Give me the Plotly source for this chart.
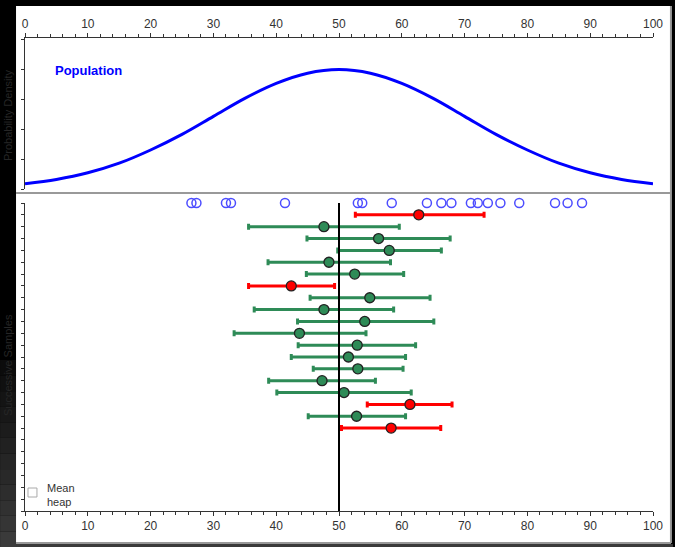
import plotly.graph_objects as go

# ---------------- data ----------------
pop_x = [0, 5, 10, 15, 20, 25, 30, 35, 40, 45, 50, 55, 60, 65, 70, 75, 80, 85, 90, 95, 100]
pop_density = [0.00088, 0.0016, 0.0027, 0.0043, 0.0065, 0.0091, 0.0121, 0.0151, 0.0176, 0.0193, 0.0199,
               0.0193, 0.0176, 0.0151, 0.0121, 0.0091, 0.0065, 0.0043, 0.0027, 0.0016, 0.00088]

sample_values = [26.5, 27.3, 32.0, 32.8, 41.4, 53.0, 53.7, 58.4, 64.0, 66.3, 67.9,
                 71.0, 72.1, 73.7, 75.7, 78.7, 84.4, 86.4, 88.7]

ci_rows = list(range(1, 20))
ci_mean = [62.7, 47.6, 56.3, 58.0, 48.4, 52.5, 42.4, 54.9, 47.6, 54.1, 43.7, 52.9, 51.5, 53.0, 47.3, 50.8, 61.3, 52.8, 58.3]
ci_low = [52.6, 35.6, 44.9, 49.8, 38.7, 44.8, 35.6, 45.4, 36.5, 43.4, 33.3, 43.5, 42.4, 45.9, 38.8, 40.1, 54.5, 45.1, 50.4]
ci_high = [73.1, 59.6, 67.7, 66.3, 58.2, 60.3, 49.3, 64.5, 58.7, 65.1, 54.3, 62.2, 60.6, 60.2, 55.8, 61.5, 68.0, 60.6, 66.2]
pop_mean = 50

x_ticks = [0, 10, 20, 30, 40, 50, 60, 70, 80, 90, 100]

GREEN = "#2e8b57"
RED = "#ff0000"

# ---------------- pixel helpers (plot area 25..655 x 38..511) ----------------
L, R, T, B = 25, 655, 38, 511
W, H = R - L, B - T


def xp(px):
    return (px - L) / W


def yp(py):
    return (B - py) / H


fig = go.Figure()

# population curve
fig.add_trace(go.Scatter(x=pop_x, y=pop_density, mode="lines", line=dict(color="#0000ff", width=3, shape="spline"),
                         xaxis="x", yaxis="y", hoverinfo="skip", showlegend=False))

# sample points
fig.add_trace(go.Scatter(x=sample_values, y=[0] * len(sample_values), mode="markers", cliponaxis=False,
                         marker=dict(symbol="circle-open", size=9, color="#4d4dff", line=dict(width=1.5)),
                         xaxis="x2", yaxis="y2", showlegend=False))

# confidence intervals split by capture of the population mean
for captured, col in [(True, GREEN), (False, RED)]:
    xs, ys, plus, minus = [], [], [], []
    for r, m, lo, hi in zip(ci_rows, ci_mean, ci_low, ci_high):
        if (lo <= pop_mean <= hi) == captured:
            xs.append(m)
            ys.append(r)
            plus.append(hi - m)
            minus.append(m - lo)
    fig.add_trace(go.Scatter(
        x=xs, y=ys, mode="markers",
        marker=dict(size=10, color=col, line=dict(color="#222222", width=1.3)),
        error_x=dict(type="data", array=plus, arrayminus=minus, color=col, thickness=3, width=3),
        xaxis="x2", yaxis="y2", showlegend=False))

shapes = []
# background panel (white) and gradient strips
shapes.append(dict(type="rect", xref="paper", yref="paper", x0=xp(16), x1=xp(673), y0=yp(543), y1=yp(6),
                   fillcolor="white", line=dict(width=0), layer="below"))
n = 12
for i in range(n):
    g = int(8 + 50 * (i + 1) / n)
    y0p = 360 + i * (187 / n)
    y1p = 360 + (i + 1) * (187 / n)
    shapes.append(dict(type="rect", xref="paper", yref="paper", x0=xp(0), x1=xp(16), y0=yp(y1p), y1=yp(y0p),
                       fillcolor=f"rgb({g},{g},{g})", line=dict(width=0), layer="below"))
shapes.append(dict(type="rect", xref="paper", yref="paper", x0=xp(16), x1=xp(675), y0=yp(547), y1=yp(544),
                   fillcolor="#3a3a3a", line=dict(width=0), layer="below"))
# borders
shapes.append(dict(type="line", xref="paper", yref="paper", x0=xp(16), x1=xp(673), y0=yp(543), y1=yp(543),
                   line=dict(color="#999999", width=2)))
shapes.append(dict(type="line", xref="paper", yref="paper", x0=xp(673), x1=xp(673), y0=yp(543), y1=yp(6),
                   line=dict(color="#999999", width=2)))
shapes.append(dict(type="line", xref="paper", yref="paper", x0=xp(16), x1=xp(673), y0=yp(193), y1=yp(193),
                   line=dict(color="#999999", width=2)))
# population mean line
shapes.append(dict(type="line", xref="x2", yref="y2", x0=pop_mean, x1=pop_mean, y0=0, y1=26,
                   line=dict(color="black", width=2), layer="above"))
# checkbox
shapes.append(dict(type="rect", xref="paper", yref="paper", x0=xp(28), x1=xp(37), y0=yp(497), y1=yp(488),
                   fillcolor="white", line=dict(color="#aaaaaa", width=1)))

annotations = [
    dict(text="<b>Population</b>", x=xp(53), y=yp(70), xref="paper", yref="paper", xanchor="left", yanchor="middle",
         showarrow=False, font=dict(family="Liberation Sans, Arial", size=13, color="#0000ff")),
    dict(text="Mean<br>heap", x=xp(45), y=yp(495), xref="paper", yref="paper", xanchor="left", yanchor="middle",
         showarrow=False, align="left", font=dict(family="Liberation Sans, Arial", size=11, color="#333333")),
    dict(text="Probability Density", x=xp(1), y=yp(115), xref="paper", yref="paper", textangle=-90,
         xanchor="left", yanchor="middle", borderpad=0,
         showarrow=False, font=dict(family="Liberation Sans, Arial", size=11, color="#262626")),
    dict(text="Successive Samples", x=xp(1), y=yp(365), xref="paper", yref="paper", textangle=-90,
         xanchor="left", yanchor="middle", borderpad=0,
         showarrow=False, font=dict(family="Liberation Sans, Arial", size=11, color="#262626")),
]

axis_font = dict(family="Liberation Sans, Arial", size=12, color="#333333")
common_x = dict(range=[0, 100], tickvals=x_ticks, ticks="outside", ticklen=4, tickcolor="#333333",
                showline=True, linecolor="#333333", linewidth=1, showgrid=False, zeroline=False,
                tickfont=axis_font, minor=dict(dtick=2, ticks="outside", ticklen=3, tickcolor="#333333"),
                fixedrange=True)

fig.update_layout(
    width=675, height=547,
    margin=dict(l=L, r=675 - R, t=T, b=547 - B),
    paper_bgcolor="black", plot_bgcolor="white",
    xaxis=dict(domain=[0, 1], anchor="y", side="top", **common_x),
    yaxis=dict(domain=[yp(189), 1], range=[0, 0.02517], dtick=0.005, ticks="outside", ticklen=3,
               tickcolor="#333333", showticklabels=False, showline=True, linecolor="#333333",
               showgrid=False, zeroline=False),
    xaxis2=dict(domain=[0, 1], anchor="y2", side="bottom", **common_x),
    yaxis2=dict(domain=[0, yp(203)], range=[26, 0], dtick=1, ticks="outside", ticklen=3,
                tickcolor="#333333", showticklabels=False, showline=True, linecolor="#333333",
                showgrid=False, zeroline=False),
    shapes=shapes,
    annotations=annotations,
    showlegend=False,
)

fig.write_html("out.html", config={"displayModeBar": False},
               post_script="document.body.style.margin='0';document.body.style.background='black';")
